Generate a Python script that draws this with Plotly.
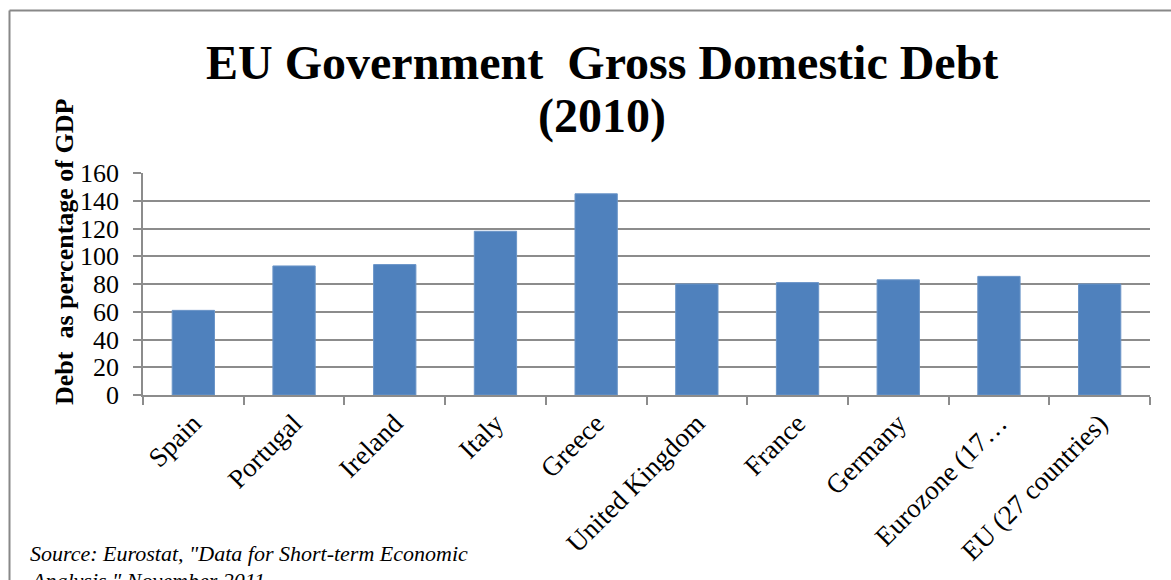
import plotly.graph_objects as go

categories = ["Spain", "Portugal", "Ireland", "Italy", "Greece", "United Kingdom",
              "France", "Germany", "Eurozone (17…", "EU (27 countries)"]
debt_pct = [61, 93, 94, 118, 145, 80, 81, 83, 85.5, 80]
y_ticks = [0, 20, 40, 60, 80, 100, 120, 140, 160]
title_lines = ["EU Government  Gross Domestic Debt", "(2010)"]
y_title = "Debt  as percentage of GDP"
source_lines = ["Source: Eurostat, \"Data for Short-term Economic", "Analysis,\" November 2011"]

SERIF = "Liberation Serif, Times New Roman, serif"
GRID = "#8c8c8c"

W, H = 1171, 580
L, R, T, B = 143, 21, 173, 185
PW = W - L - R
PH = H - T - B


def px_x(px):
    return (px - L) / PW


def px_y(py):
    return (H - B - py) / PH


fig = go.Figure(go.Bar(
    x=categories, y=debt_pct,
    marker=dict(color="#4F81BD", line=dict(color="#6b95c8", width=1)),
    width=0.42,
))

fig.update_layout(
    width=W, height=H,
    margin=dict(l=L, r=R, t=T, b=B, autoexpand=False),
    paper_bgcolor="white", plot_bgcolor="white",
    showlegend=False,
    font=dict(family=SERIF, color="black"),
)

fig.update_xaxes(
    tickangle=-45, tickfont=dict(family=SERIF, size=27, color="black"),
    showline=True, linecolor=GRID, linewidth=1.5,
    ticks="outside", tickson="boundaries", ticklen=8, tickcolor=GRID, tickwidth=1.5,
    showgrid=False, zeroline=False,
)
fig.update_yaxes(
    range=[0, 160], tickvals=y_ticks, ticktext=[str(v) for v in y_ticks],
    tickfont=dict(family=SERIF, size=26, color="black"),
    showline=True, linecolor=GRID, linewidth=1.5,
    ticks="outside", ticklen=8, tickcolor=GRID, tickwidth=1.5,
    ticklabelstandoff=9,
    showgrid=True, gridcolor=GRID, gridwidth=1.5, zeroline=False,
)

annotations = [
    dict(text="<b>%s</b>" % title_lines[0], x=px_x(602), y=px_y(62),
         xref="paper", yref="paper", xanchor="center", yanchor="middle",
         showarrow=False, font=dict(family=SERIF, size=48, color="black")),
    dict(text="<b>%s</b>" % title_lines[1], x=px_x(602), y=px_y(116),
         xref="paper", yref="paper", xanchor="center", yanchor="middle",
         showarrow=False, font=dict(family=SERIF, size=48, color="black")),
    dict(text="<b>%s</b>" % y_title, x=px_x(64), y=px_y(252),
         xref="paper", yref="paper", xanchor="center", yanchor="middle",
         textangle=-90, showarrow=False,
         font=dict(family=SERIF, size=26, color="black")),
    dict(text="<i>%s</i>" % source_lines[0],
         x=px_x(28), y=px_y(539), xref="paper", yref="paper",
         xanchor="left", yanchor="top", align="left", showarrow=False,
         font=dict(family=SERIF, size=22, color="black")),
    dict(text="<i>%s</i>" % source_lines[1],
         x=px_x(28), y=px_y(566), xref="paper", yref="paper",
         xanchor="left", yanchor="top", align="left", showarrow=False,
         font=dict(family=SERIF, size=22, color="black")),
]
fig.update_layout(annotations=annotations)

fig.update_layout(shapes=[
    dict(type="line", xref="paper", yref="paper",
         x0=px_x(9.5), x1=px_x(1200), y0=px_y(10.5), y1=px_y(10.5),
         line=dict(color="#888888", width=2)),
    dict(type="line", xref="paper", yref="paper",
         x0=px_x(9.5), x1=px_x(9.5), y0=px_y(10.5), y1=px_y(620),
         line=dict(color="#888888", width=2)),
])

fig.write_html("out.html", config={"displayModeBar": False},
               post_script="document.body.style.margin='0';document.body.style.overflow='hidden';")
